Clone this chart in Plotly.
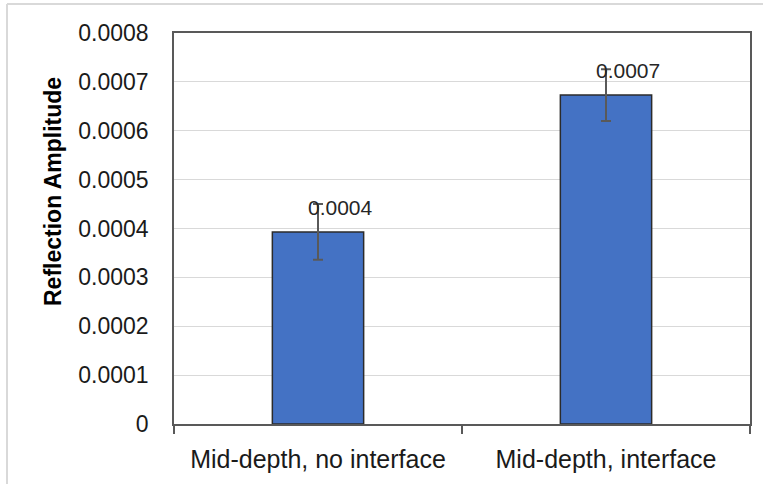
import plotly.graph_objects as go

categories = ["Mid-depth, no interface", "Mid-depth, interface"]
values = [0.000393, 0.000673]
errors = [0.000057, 0.000053]
labels = ["0.0004", "0.0007"]
y_ticks = [0, 0.0001, 0.0002, 0.0003, 0.0004, 0.0005, 0.0006, 0.0007, 0.0008]
y_tick_text = ["0", "0.0001", "0.0002", "0.0003", "0.0004", "0.0005", "0.0006", "0.0007", "0.0008"]

FONT = "Liberation Sans"
TXT = "#1a1a1a"

fig = go.Figure()
fig.add_trace(go.Bar(
    x=categories, y=values,
    marker=dict(color="#4472C4", line=dict(color="#2b2b2b", width=1.5)),
    error_y=dict(type="data", array=errors, visible=True, color="#595959", thickness=2, width=5),
    showlegend=False,
))

for c, v, e, t in zip(categories, values, errors, labels):
    fig.add_annotation(x=c, y=v, text=t, showarrow=False, yanchor="bottom",
                       xshift=22, yshift=11, font=dict(family=FONT, size=21, color="#262626"))

fig.add_annotation(text="<b>Reflection Amplitude</b>", textangle=-90, xref="paper", yref="paper",
                   x=(53 - 174) / 576, y=(424 - 192) / 391, xanchor="center", yanchor="middle",
                   showarrow=False, font=dict(family=FONT, size=23, color="#000000"))

# outer chart border (partially visible)
fig.add_shape(type="line", xref="paper", yref="paper", x0=(7 - 174) / 576, x1=(770 - 174) / 576,
              y0=(424 - 4) / 391, y1=(424 - 4) / 391, line=dict(color="#d9d9d9", width=2))
fig.add_shape(type="line", xref="paper", yref="paper", x0=(7 - 174) / 576, x1=(7 - 174) / 576,
              y0=(424 - 4) / 391, y1=(424 - 490) / 391, line=dict(color="#d9d9d9", width=2))

fig.update_layout(
    width=763, height=484,
    margin=dict(l=174, r=13, t=33, b=60),
    paper_bgcolor="white", plot_bgcolor="white",
    bargap=0.683,
    font=dict(family=FONT, size=22, color=TXT),
    xaxis=dict(showline=True, linecolor="#595959", linewidth=1.5, mirror=True,
               ticks="outside", tickson="boundaries", ticklen=8, tickcolor="#595959", tickwidth=1.5,
               ticklabelstandoff=12,
               tickfont=dict(family=FONT, size=25, color=TXT)),
    yaxis=dict(range=[0, 0.0008], tickvals=y_ticks, ticktext=y_tick_text,
               showline=True, linecolor="#595959", linewidth=1.5, mirror=True,
               showgrid=True, gridcolor="#d9d9d9", gridwidth=1, zeroline=False,
               ticklabelstandoff=19,
               tickfont=dict(family=FONT, size=23, color=TXT)),
)

fig.write_html("out.html", config={"displayModeBar": False},
               post_script="document.body.style.margin='0';")
